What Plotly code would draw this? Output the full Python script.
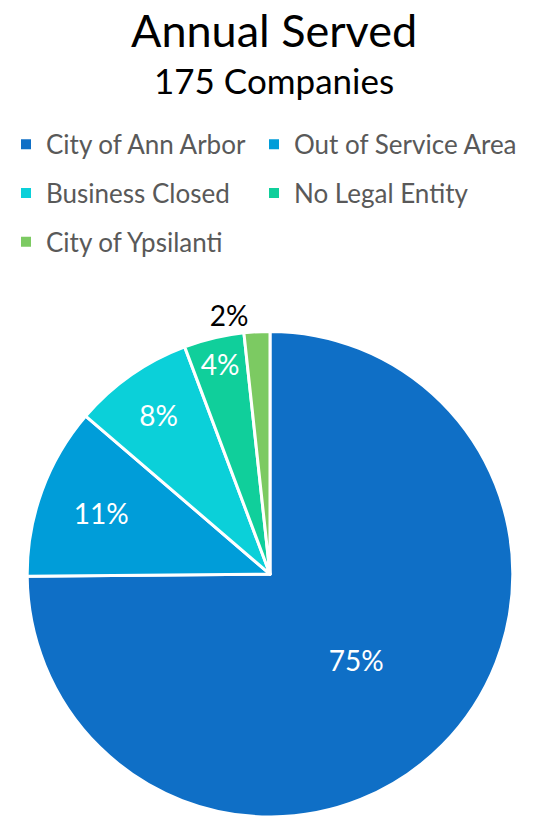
import plotly.graph_objects as go

labels = ["City of Ann Arbor", "Out of Service Area", "Business Closed",
          "No Legal Entity", "City of Ypsilanti"]
counts = [131, 20, 14, 7, 3]
colors = ["#0F6FC6", "#009DD9", "#0BD0D9", "#10CF9B", "#7CCA62"]
text_pos = ["inside", "inside", "inside", "inside", "outside"]
text_col = ["white", "white", "white", "white", "black"]
legend_ids = ["legend", "legend2", "legend3", "legend4", "legend5"]

# figure is a few px taller than the window so the pie's bottom is cropped as in the original
W, H = 547, 822
cx, cy, r = 270, 577, 244  # pixel centre/radius of the pie

fig = go.Figure(go.Pie(
    labels=labels, values=counts, sort=False, direction="clockwise",
    rotation=0,
    marker=dict(colors=colors, line=dict(color="white", width=3)),
    texttemplate="%{percent:.0%}",
    textposition=text_pos,
    textfont=dict(color=text_col, size=28, family="Lato"),
    insidetextorientation="horizontal",
    domain=dict(x=[(cx - r) / W, (cx + r) / W], y=[max(0, H - cy - r) / H, (H - cy + r) / H]),
    showlegend=False,
))

# legend entries (one per category), laid out two per row like the original
for lab, col, lg in zip(labels, colors, legend_ids):
    fig.add_trace(go.Scatter(
        x=[None], y=[None], mode="markers", name=lab, legend=lg,
        marker=dict(symbol="square", size=10, color=col),
        hoverinfo="skip",
    ))

leg_x = [6, 254, 6, 254, 6]
leg_y = [145, 145, 194, 194, 243]
leg_common = dict(
    orientation="h", xanchor="left", yanchor="middle",
    font=dict(size=26, color="#595959", family="Lato"),
    bgcolor="rgba(0,0,0,0)",
)
legends = {lg: dict(x=lx / W, y=1 - ly / H, **leg_common)
           for lg, lx, ly in zip(legend_ids, leg_x, leg_y)}

fig.update_layout(
    width=W, height=H,
    margin=dict(l=0, r=0, t=0, b=0),
    paper_bgcolor="white", plot_bgcolor="white",
    font=dict(family="Lato", color="#595959"),
    xaxis=dict(visible=False), yaxis=dict(visible=False),
    annotations=[
        dict(text="Annual Served", xref="paper", yref="paper", x=0.5, xanchor="center",
             y=1 - 30 / H, yanchor="middle", showarrow=False,
             font=dict(size=45, color="black", family="Lato")),
        dict(text="175 Companies", xref="paper", yref="paper", x=0.5, xanchor="center",
             y=1 - 80 / H, yanchor="middle", showarrow=False,
             font=dict(size=35, color="black", family="Lato")),
    ],
    **legends,
)

fig.write_html("out.html", config={"displayModeBar": False},
               post_script="document.body.style.margin='0';")
